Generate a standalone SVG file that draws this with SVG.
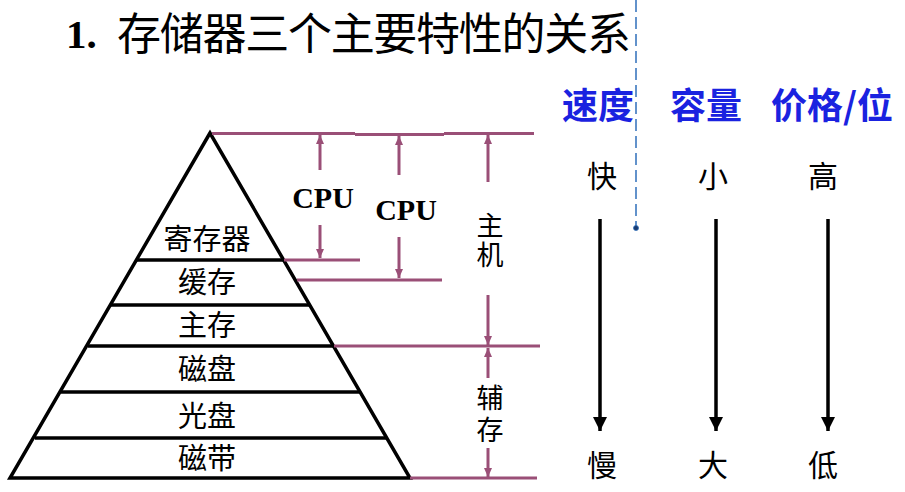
<svg xmlns="http://www.w3.org/2000/svg" width="905" height="492" viewBox="0 0 905 492">
<style>
.blk{stroke:#000;stroke-width:3.5;fill:none}
.mag{stroke:#9a4f77;stroke-width:3;fill:none}
.mar{stroke:#9a4f77;stroke-width:3;fill:none;marker-end:url(#mh)}
.bar{stroke:#000;stroke-width:3.5;fill:none;marker-end:url(#bh)}
.cn{font-family:"Noto Sans CJK SC","Noto Sans CJK JP",sans-serif;fill:#000;text-anchor:middle}
.lbl{font-size:29px}
.vt{font-family:"Noto Sans CJK SC","Noto Sans CJK JP",sans-serif;fill:#000;font-size:27px;writing-mode:vertical-rl}
.cpu{font-family:"Liberation Serif",serif;font-weight:bold;font-size:30px;fill:#000;text-anchor:middle}
.blue{font-family:"Noto Sans CJK SC",sans-serif;font-weight:bold;font-size:36px;fill:#1a22e0;text-anchor:middle}
</style>
<defs>
<marker id="mh" markerUnits="userSpaceOnUse" markerWidth="10" markerHeight="10" refX="9" refY="4" orient="auto">
<path d="M0,0 L9,4 L0,8 Z" fill="#9a4f77"/>
</marker>
<marker id="bh" markerUnits="userSpaceOnUse" markerWidth="16" markerHeight="16" refX="14" refY="7" orient="auto">
<path d="M0,0 L14,7 L0,14 Z" fill="#000"/>
</marker>
</defs>
<rect width="905" height="492" fill="#fff"/>
<g id="title">
<text x="66" y="48" font-family="Liberation Serif,serif" font-weight="bold" font-size="41" fill="#000">1.</text>
<text x="117" y="50" font-family="Noto Sans CJK SC,sans-serif" font-size="44" fill="#000" textLength="514" lengthAdjust="spacing">存储器三个主要特性的关系</text>
</g>
<g id="guide">
<line x1="636" y1="0" x2="636" y2="226" stroke="#2f6fba" stroke-width="1.5" stroke-dasharray="12,5"/>
<circle cx="636" cy="228" r="2.5" fill="#1a3a70" stroke="#2f6fba" stroke-width="0.8"/>
</g>
<g id="pyramid">
<polygon class="blk" points="210,133 10,478 410,478" stroke-linejoin="miter"/>
<line class="blk" x1="137" y1="260" x2="284" y2="260"/>
<line class="blk" x1="111" y1="305" x2="310" y2="305"/>
<line class="blk" x1="88" y1="346" x2="334" y2="346"/>
<line class="blk" x1="61" y1="392" x2="360" y2="392"/>
<line class="blk" x1="35" y1="438" x2="387" y2="438"/>
</g>
<g id="levels">
<text class="cn lbl" x="207" y="250">寄存器</text>
<text class="cn lbl" x="207" y="293">缓存</text>
<text class="cn lbl" x="207" y="336">主存</text>
<text class="cn lbl" x="207" y="380">磁盘</text>
<text class="cn lbl" x="207" y="427">光盘</text>
<text class="cn lbl" x="207" y="469">磁带</text>
</g>
<g id="connectors">
<line class="mag" x1="212" y1="133.5" x2="355" y2="133.5"/>
<line class="mag" x1="355" y1="134.5" x2="444" y2="134.5"/>
<line class="mag" x1="444" y1="133.5" x2="534" y2="133.5"/>
<line class="mag" x1="284" y1="260" x2="360" y2="260"/>
<line class="mag" x1="297" y1="280" x2="442" y2="280"/>
<line class="mag" x1="334" y1="346" x2="540" y2="346"/>
<line class="mag" x1="410" y1="478" x2="537" y2="478"/>
<line class="mar" x1="320" y1="170" x2="320" y2="135"/>
<line class="mar" x1="320" y1="225" x2="320" y2="258"/>
<line class="mar" x1="399" y1="175" x2="399" y2="136"/>
<line class="mar" x1="399" y1="237" x2="399" y2="278"/>
<line class="mar" x1="488" y1="182" x2="488" y2="135"/>
<line class="mar" x1="488" y1="295" x2="488" y2="345"/>
<line class="mar" x1="488" y1="378" x2="488" y2="348"/>
<line class="mar" x1="488" y1="448" x2="488" y2="477"/>
<line class="bar" x1="600" y1="219" x2="600" y2="431"/>
<line class="bar" x1="716" y1="219" x2="716" y2="431"/>
<line class="bar" x1="828" y1="219" x2="828" y2="431"/>
</g>
<g id="labels">
<text class="cpu" x="323" y="208">CPU</text>
<text class="cpu" x="406" y="220">CPU</text>
<text class="vt" x="490" y="212" letter-spacing="2">主机</text>
<text class="vt" x="490" y="384" letter-spacing="5">辅存</text>
</g>
<g id="headers">
<text class="blue" x="598" y="119">速度</text>
<text class="blue" x="706" y="119">容量</text>
<text class="blue" x="832" y="119">价格/位</text>
</g>
<g id="values">
<text class="cn" font-size="30" x="602" y="187">快</text>
<text class="cn" font-size="30" x="713" y="187">小</text>
<text class="cn" font-size="30" x="823" y="187">高</text>
<text class="cn" font-size="30" x="602" y="476">慢</text>
<text class="cn" font-size="30" x="713" y="476">大</text>
<text class="cn" font-size="30" x="823" y="476">低</text>
</g>
</svg>
